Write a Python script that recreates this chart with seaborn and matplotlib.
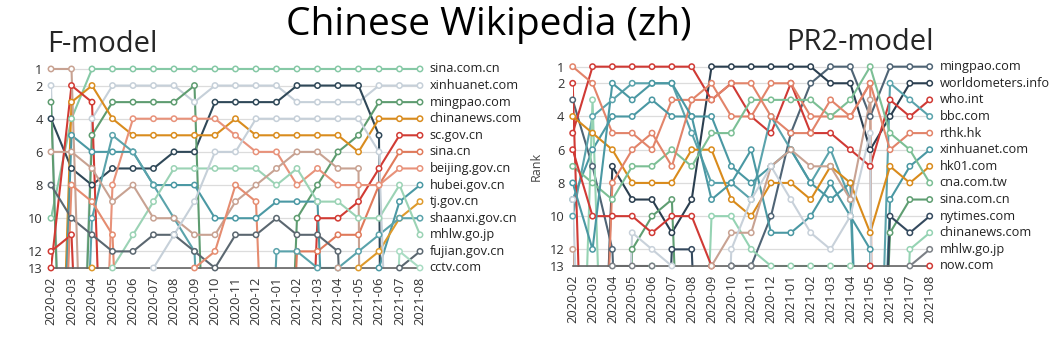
import numpy as np
import pandas as pd
import matplotlib
matplotlib.use("Agg")
import matplotlib.pyplot as plt
import seaborn as sns

months = ["2020-02", "2020-03", "2020-04", "2020-05", "2020-06", "2020-07", "2020-08",
          "2020-09", "2020-10", "2020-11", "2020-12", "2021-01", "2021-02", "2021-03",
          "2021-04", "2021-05", "2021-06", "2021-07", "2021-08"]
rank_ticks = [1, 2, 4, 6, 8, 10, 12, 13]
OFF = 40  # rank outside the top 13

# F-model ranks (names starting with "_" are sites that end outside the top 13)
f_sites = {
    "sina.com.cn":    [10, 4, 1, 1, 1, 1, 1, 1, 1, 1, 1, 1, 1, 1, 1, 1, 1, 1, 1],
    "xinhuanet.com":  [2, OFF, 4, 2, 2, 2, 2, 3, 2, 2, 2, 2, 3, 3, 3, 3, 2, 2, 2],
    "_navy":          [4, 7, 8, 7, 7, 7, 6, 6, 3, 3, 3, 3, 2, 2, 2, 2, 5, 200, 200],
    "mingpao.com":    [3, OFF, 5, 3, 3, 3, 3, 2, OFF, OFF, OFF, OFF, 10, 8, 6, 5, 3, 3, 3],
    "chinanews.com":  [OFF, 3, 2, 4, 5, 5, 5, 5, 5, 4, 5, 5, 5, 5, 5, 6, 4, 4, 4],
    "sc.gov.cn":      [13, 2, 3, OFF, OFF, OFF, OFF, OFF, OFF, OFF, OFF, OFF, OFF, 10, 10, 9, 7, 5, 5],
    "sina.cn":        [OFF, OFF, OFF, OFF, OFF, OFF, OFF, OFF, OFF, OFF, OFF, OFF, 12, 12, 11, 11, 8, 6, 6],
    "beijing.gov.cn": [OFF, OFF, OFF, 8, 4, 4, 4, 4, 4, 5, 6, 6, 8, 7, 8, 8, 8, 7, 7],
    "hubei.gov.cn":   [OFF, 5, 6, 6, 6, 8, 8, 8, 10, 10, 10, 9, 9, 9, OFF, OFF, 13, 9, 8],
    "tj.gov.cn":      [OFF, OFF, 13, OFF, OFF, OFF, OFF, OFF, OFF, OFF, OFF, OFF, OFF, OFF, OFF, 13, 12, 10, 9],
    "shaanxi.gov.cn": [OFF, OFF, 10, 5, 6, 8, 10, 12, OFF, OFF, OFF, 12, 12, 13, 13, 12, 11, 10, 10],
    "mhlw.go.jp":     [OFF, OFF, OFF, 13, 11, 9, 7, 7, 7, 7, 7, 8, 7, 9, 9, 10, 10, 8, 11],
    "fujian.gov.cn":  [8, 10, 11, 12, 12, 11, 11, 12, 13, 11, 11, 10, 11, 11, 12, OFF, OFF, 13, 12],
    "cctv.com":       [OFF, OFF, OFF, OFF, OFF, OFF, OFF, OFF, OFF, OFF, OFF, OFF, OFF, OFF, OFF, OFF, OFF, 12, 13],
    "_tan1":          [1, 1, OFF, OFF, OFF, OFF, OFF, OFF, OFF, OFF, OFF, OFF, OFF, OFF, 13, OFF, OFF, OFF, OFF],
    "_tan2":          [6, 6, 7, 9, 8, 10, 10, 11, 11, 9, 8, 7, 6, 6, 7, 7, 200, 200, 200],
    "_red":           [12, 11, OFF, OFF, OFF, OFF, OFF, OFF, OFF, OFF, OFF, OFF, OFF, OFF, OFF, OFF, OFF, OFF, OFF],
    "_grey":          [OFF, OFF, OFF, OFF, OFF, 13, 11, 9, 6, 6, 4, 4, 4, 4, 4, 4, 6, OFF, OFF],
    "_salmon":        [OFF, 8, 9, 11, OFF, OFF, OFF, 13, 12, 8, 9, OFF, OFF, OFF, OFF, OFF, OFF, OFF, OFF],
}
f_colors = {
    "sina.com.cn": "#86c9a6", "xinhuanet.com": "#c6d0d9", "_navy": "#2f4858",
    "mingpao.com": "#5e9c70", "chinanews.com": "#d98c1e", "sc.gov.cn": "#d13b34",
    "sina.cn": "#e07a5b", "beijing.gov.cn": "#e8927a", "hubei.gov.cn": "#4b99a4",
    "tj.gov.cn": "#de9a2c", "shaanxi.gov.cn": "#5aa3ab", "mhlw.go.jp": "#9bd3b5",
    "fujian.gov.cn": "#5b6770", "cctv.com": "#a9dcc3", "_tan1": "#c8a292",
    "_tan2": "#c8a292", "_red": "#d13b34", "_grey": "#c6d0d9", "_salmon": "#e58c70",
}

# PR2-model ranks
p_sites = {
    "mingpao.com":       [3, 7, 12, OFF, OFF, OFF, OFF, OFF, 13, 13, 10, 5, 2, 1, 1, 4, 1, 1, 1],
    "worldometers.info": [OFF, OFF, 7, 9, 9, 11, 9, 1, 1, 1, 1, 1, 1, 2, 2, 6, 4, 2, 2],
    "who.int":           [5, 1, 1, 1, 1, 1, 1, 3, 2, 4, 5, 2, 5, 5, 6, 7, 3, 4, 3],
    "bbc.com":           [10, 4, 3, 2, 2, 2, 5, 8, 8, 9, 4, 6, 8, 6, 9, OFF, 2, 3, 4],
    "rthk.hk":           [1, 2, 5, 5, 6, 3, 3, 2, 4, 4, 2, 2, 4, 4, 4, 2, 6, 5, 5],
    "xinhuanet.com":     [9, 6, 4, 4, 3, 4, 4, 4, 7, 8, 7, 6, 8, 9, 8, OFF, 9, 7, 6],
    "hk01.com":          [4, 5, 6, 8, 8, 8, 6, 6, 9, 10, 8, 8, 9, 7, 8, 11, 7, 8, 7],
    "cna.com.tw":        [7, 8, 9, 7, 7, 6, 7, 5, 5, 3, 3, 3, 3, 4, 3, 1, 5, 6, 8],
    "sina.com.cn":       [OFF, OFF, OFF, 12, 10, 9, OFF, OFF, OFF, OFF, OFF, OFF, OFF, OFF, OFF, OFF, 11, 9, 9],
    "nytimes.com":       [OFF, OFF, OFF, OFF, OFF, 12, 12, OFF, OFF, OFF, OFF, OFF, OFF, OFF, OFF, OFF, 10, 11, 10],
    "chinanews.com":     [OFF, 3, OFF, OFF, 13, OFF, OFF, 10, 10, 12, 13, 13, 13, 13, 13, OFF, OFF, 12, 11],
    "mhlw.go.jp":        [OFF, OFF, 13, 13, 13, OFF, OFF, OFF, 13, 13, OFF, OFF, OFF, OFF, OFF, OFF, OFF, 13, 12],
    "now.com":           [OFF, OFF, OFF, OFF, OFF, OFF, OFF, OFF, OFF, OFF, OFF, OFF, OFF, OFF, OFF, 13, OFF, OFF, 13],
    "_red1":             [6, 10, 10, 10, 11, 10, 10, 13, OFF, OFF, OFF, OFF, OFF, OFF, OFF, OFF, OFF, OFF, OFF],
    "_red2":             [2, OFF, OFF, OFF, OFF, OFF, OFF, OFF, OFF, OFF, OFF, OFF, OFF, OFF, OFF, OFF, OFF, OFF, OFF],
    "_salmon":           [OFF, OFF, 8, 6, 5, 7, 3, 3, 2, 2, 4, 5, 5, 3, 4, 2, 200, 200, 200],
    "_teal":             [8, 12, 2, 3, 2, 2, 4, 9, 8, 6, 11, 11, 10, 8, 10, 12, 200, 200, 200],
    "_tan":              [12, OFF, OFF, OFF, OFF, OFF, OFF, 13, 11, 11, 7, 6, 7, 7, 9, 3, 200, 200, 200],
    "_grey":             [9, OFF, OFF, 11, 12, 13, OFF, OFF, 12, 9, 7, 9, 11, 12, 10, 5, 200, 200, 200],
}
p_colors = {
    "mingpao.com": "#4f6475", "worldometers.info": "#2b3f50", "who.int": "#d03a35",
    "bbc.com": "#5aa3ac", "rthk.hk": "#e2846a", "xinhuanet.com": "#4a98a3",
    "hk01.com": "#d98b1c", "cna.com.tw": "#7cbf95", "sina.com.cn": "#5f9e72",
    "nytimes.com": "#34495e", "chinanews.com": "#95d3b3", "mhlw.go.jp": "#7b8086",
    "now.com": "#d03a35", "_red1": "#d03a35", "_red2": "#d03a35", "_salmon": "#e2846a",
    "_teal": "#4a98a3", "_tan": "#c8a292", "_grey": "#c8d1da",
}


def to_long(sites):
    rows = []
    for name, ranks in sites.items():
        for i, r in enumerate(ranks):
            rows.append({"site": name, "month": i, "rank": r})
    return pd.DataFrame(rows)


sns.set_style("white")
plt.rcParams["font.family"] = ["Open Sans", "DejaVu Sans"]

fig = plt.figure(figsize=(10.6, 3.38), dpi=100)
ax_f = fig.add_axes([51 / 1060, 1 - 268.8 / 338, 369 / 1060, 201.5 / 338])
ax_p = fig.add_axes([572.7 / 1060, 1 - 266.8 / 338, 357 / 1060, 201.8 / 338])


def draw(ax, sites, colors, show_ylabel):
    df = to_long(sites)
    sns.lineplot(data=df, x="month", y="rank", hue="site", palette=colors,
                 estimator=None, sort=False, linewidth=1.5, legend=False, ax=ax)
    vis = df[df["rank"] <= 13]
    sns.scatterplot(data=vis, x="month", y="rank", hue="site", palette=colors,
                    s=15, linewidth=1.1, legend=False, zorder=5, ax=ax)
    # hollow markers: hue colour goes to the edge
    for coll in ax.collections:
        coll.set_edgecolors(coll.get_facecolors())
        coll.set_facecolors("white")
        coll.set_clip_on(False)
    for name, ranks in sites.items():
        if not name.startswith("_") and ranks[-1] <= 13:
            ax.annotate(name, (len(months) - 1, ranks[-1]), xytext=(7, 0),
                        textcoords="offset points", va="center", ha="left",
                        fontsize=9.2, color="#222222", annotation_clip=False)
    for side in ["top", "right", "left"]:
        ax.spines[side].set_visible(False)
    ax.spines["bottom"].set_position(("data", 13))
    ax.spines["bottom"].set_color("#666666")
    ax.spines["bottom"].set_linewidth(1.2)
    ax.set_xlim(0, len(months) - 1)
    ax.set_ylim(13.05, 0.9)
    ax.set_yticks(rank_ticks)
    ax.set_yticklabels([str(t) for t in rank_ticks])
    ax.set_xticks(range(len(months)))
    ax.set_xticklabels(months)
    ax.tick_params(axis="both", labelsize=9.3, labelcolor="#333333", length=4,
                   width=0.8, pad=2)
    ax.tick_params(axis="x", color="#777777", labelrotation=90)
    ax.tick_params(axis="y", color="#999999")
    ax.grid(axis="y", color="#dcdcdc", linewidth=0.9, zorder=0)
    ax.set_axisbelow(True)
    ax.set_xlabel("")
    if show_ylabel:
        ax.set_ylabel("Rank", fontsize=9, color="#444444", labelpad=5)
    else:
        ax.set_ylabel("")


draw(ax_f, f_sites, f_colors, False)
draw(ax_p, p_sites, p_colors, True)

fig.text(489 / 1060, 1 - 25 / 338, "Chinese Wikipedia (zh)", ha="center", va="center",
         fontsize=28, color="black")
fig.text(47 / 1060, 1 - 44 / 338, "F-model", ha="left", va="center", fontsize=21)
fig.text(786 / 1060, 1 - 42 / 338, "PR2-model", ha="left", va="center", fontsize=21)

fig.savefig("out.png", dpi=100, facecolor="white")
